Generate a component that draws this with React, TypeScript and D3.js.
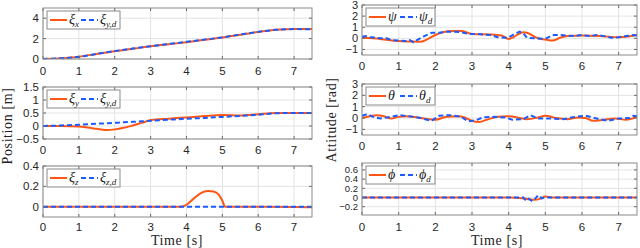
import * as d3 from 'd3'

// time ticks shared by every panel
const timeTicks = [0, 1, 2, 3, 4, 5, 6, 7]

// position x
const tXi = [0, 0.5, 1, 1.5, 2, 2.5, 3, 3.5, 4, 4.5, 5, 5.5, 6, 6.5, 7, 7.5]
const xiX = [0, 0.08, 0.23, 0.5, 0.77, 1.0, 1.26, 1.45, 1.65, 1.88, 2.1, 2.38, 2.65, 2.87, 2.95, 2.93]
const xiXd = [0, 0.07, 0.22, 0.5, 0.78, 1.02, 1.25, 1.47, 1.68, 1.9, 2.12, 2.4, 2.66, 2.86, 2.93, 2.92]

// position y
const tY = [0, 0.5, 1, 1.25, 1.5, 1.75, 2, 2.25, 2.5, 2.75, 3, 3.5, 4, 4.5, 5, 5.5, 6, 6.5, 7, 7.5]
const xiY = [0, 0, -0.02, -0.06, -0.11, -0.15, -0.13, -0.07, 0.02, 0.12, 0.22, 0.28, 0.33, 0.38, 0.42, 0.4, 0.45, 0.5, 0.5, 0.5]
const xiYd = [0, 0.02, 0.05, 0.07, 0.09, 0.1, 0.12, 0.14, 0.16, 0.18, 0.2, 0.24, 0.28, 0.31, 0.35, 0.39, 0.43, 0.49, 0.5, 0.5]

// position z
const tZ = [0, 1, 2, 3, 3.8, 4.0, 4.2, 4.4, 4.6, 4.75, 4.9, 5.0, 5.08, 5.5, 6, 7, 7.5]
const xiZ = [0, 0, 0, 0, 0, 0.02, 0.08, 0.135, 0.155, 0.15, 0.12, 0.06, 0, 0, 0, -0.003, -0.005]
const xiZd = [0, 0, 0, 0, 0, 0, 0, 0, 0, 0, 0, 0, 0, 0, 0, 0, 0]

// yaw
const tPsi = [0, 0.5, 1, 1.3, 1.6, 1.8, 2, 2.2, 2.5, 2.7, 3, 3.5, 3.8, 4.0, 4.1, 4.25, 4.4, 4.5, 4.8, 5.0, 5.2, 5.4, 5.6, 6, 6.5, 7, 7.5]
const psi = [0.05, -0.05, -0.25, -0.28, -0.3, -0.05, 0.3, 0.55, 0.65, 0.65, 0.4, 0.35, 0.25, -0.05, 0.05, 0.35, 0.55, 0.5, 0.0, -0.1, -0.2, 0.05, 0.2, 0.25, 0.2, 0.1, 0.3]
const tPsiD = [0, 0.1, 0.2, 0.35, 0.5, 0.65, 0.8, 1, 1.2, 1.3, 1.4, 1.5, 1.7, 1.9, 2.1, 2.3, 2.5, 2.7, 2.9, 3.1, 3.3, 3.5, 3.7, 3.9, 4.0, 4.2, 4.3, 4.4, 4.5, 4.7, 5.0, 5.2, 5.4, 5.6, 5.8, 6.0, 6.2, 6.4, 6.6, 6.8, 7, 7.2, 7.4, 7.5]
const psiD = [0.15, 0.2, 0.1, 0.08, 0.0, 0.02, -0.15, -0.2, -0.25, -0.15, -0.35, -0.15, 0.2, 0.5, 0.5, 0.6, 0.6, 0.55, 0.4, 0.4, 0.35, 0.3, 0.1, 0.05, 0.1, 0.45, 0.6, 0.45, 0.05, 0.0, -0.05, 0.3, 0.3, 0.25, 0.2, 0.3, 0.2, 0.3, 0.2, 0.05, 0.1, 0.2, 0.3, 0.25]

// pitch
const tTheta = [0, 0.2, 0.4, 0.6, 0.8, 1.0, 1.2, 1.5, 1.8, 2.0, 2.3, 2.6, 2.8, 3.0, 3.2, 3.4, 3.7, 4.0, 4.3, 4.5, 4.8, 5.0, 5.3, 5.6, 5.9, 6.1, 6.3, 6.6, 6.9, 7.2, 7.5]
const theta = [0.0, 0.15, 0.25, 0.15, -0.05, 0.1, 0.15, 0.05, -0.1, -0.15, 0.1, 0.15, 0.05, -0.25, -0.35, -0.15, 0.1, 0.15, 0.0, -0.1, 0.05, 0.2, 0.0, -0.1, 0.05, 0.0, -0.25, -0.15, -0.05, -0.15, 0.1]
const tThetaD = [0, 0.15, 0.3, 0.5, 0.8, 1.0, 1.3, 1.6, 1.9, 2.1, 2.4, 2.7, 2.9, 3.1, 3.3, 3.6, 3.9, 4.1, 4.4, 4.6, 4.8, 5.2, 5.5, 5.8, 6.1, 6.4, 6.7, 7.0, 7.3, 7.4, 7.5]
const thetaD = [0.2, 0.35, 0.1, -0.05, 0.1, 0.25, 0.15, 0.0, -0.25, 0.2, 0.25, 0.1, -0.3, -0.2, 0.05, 0.1, 0.05, -0.15, -0.1, 0.25, -0.05, -0.05, -0.1, 0.1, 0.2, -0.05, -0.25, -0.05, 0.0, 0.2, 0.15]

// roll
const tPhi = [0, 1, 2, 3, 4, 4.3, 4.5, 4.7, 4.85, 5.0, 5.1, 5.2, 6, 7, 7.5]
const phi = [0, 0, 0, 0, 0, -0.01, -0.03, -0.05, -0.03, 0.02, 0.01, 0, 0, 0, 0]
const tPhiD = [0, 1, 2, 3, 4, 4.4, 4.45, 4.5, 4.55, 4.65, 4.72, 4.8, 4.85, 4.9, 5.0, 6, 7, 7.5]
const phiD = [0, 0, 0, 0, 0, 0, -0.05, -0.07, -0.03, -0.08, -0.03, 0.05, 0.03, -0.02, 0, 0, 0, 0]

const ORANGE = '#ff5515'
const BLUE = '#1a5cff'
const SERIF = '"Liberation Serif", "DejaVu Serif", serif'
const SANS = '"Liberation Sans", Arial, sans-serif'

type Label = { base: string; sub?: string }

type PanelProps = {
  left: number
  top: number
  width: number
  height: number
  yDomain: [number, number]
  yTicks: number[]
  tA: number[]
  a: number[]
  tD: number[]
  d: number[]
  labA: Label
  labD: Label
  legendW: number
  smoothD?: boolean
  xLabelGap?: number
  yFont?: number
}

function LegendText({ x, y, lab }: { x: number; y: number; lab: Label }) {
  return (
    <text x={x} y={y} fontFamily={SERIF} fontSize={14} fontStyle="italic" fill="#222">
      {lab.base}
      {lab.sub && (
        <tspan fontSize={9} dy={3}>
          {lab.sub}
        </tspan>
      )}
    </text>
  )
}

function Panel({
  left, top, width, height, yDomain, yTicks, tA, a, tD, d, labA, labD, legendW,
  smoothD = false, xLabelGap = 15, yFont = 11.5,
}: PanelProps) {
  const x = d3.scaleLinear([0, 7.5], [left, left + width])
  const y = d3.scaleLinear(yDomain, [top + height, top])

  const lineA = d3
    .line<number>()
    .x((_, i) => x(tA[i]))
    .y((v) => y(v))
    .curve(d3.curveMonotoneX)
  const lineD = d3
    .line<number>()
    .x((_, i) => x(tD[i]))
    .y((v) => y(v))
    .curve(smoothD ? d3.curveMonotoneX : d3.curveLinear)

  const lx = left + 4
  const ly = top + 3
  return (
    <g>
      <defs>
        <clipPath id={`clip-${left}-${top}`}>
          <rect x={left} y={top} width={width} height={height} />
        </clipPath>
      </defs>
      <rect x={left} y={top} width={width} height={height} fill="white" />
      {/* grid */}
      <g stroke="#e3e3e3" strokeWidth={1}>
        {timeTicks.map((t) => (
          <line key={t} x1={x(t)} x2={x(t)} y1={top} y2={top + height} />
        ))}
        {yTicks.map((v) => (
          <line key={v} x1={left} x2={left + width} y1={y(v)} y2={y(v)} />
        ))}
      </g>
      <g clipPath={`url(#clip-${left}-${top})`}>
        <path d={lineA(a) ?? ''} fill="none" stroke={ORANGE} strokeWidth={2} />
        <path d={lineD(d) ?? ''} fill="none" stroke={BLUE} strokeWidth={2} strokeDasharray="5,3" />
      </g>
      {/* ticks */}
      <g stroke="#666" strokeWidth={1}>
        {timeTicks.map((t) => (
          <g key={t}>
            <line x1={x(t)} x2={x(t)} y1={top + height} y2={top + height - 3} />
            <line x1={x(t)} x2={x(t)} y1={top} y2={top + 3} />
          </g>
        ))}
        {yTicks.map((v) => (
          <g key={v}>
            <line x1={left} x2={left + 3} y1={y(v)} y2={y(v)} />
            <line x1={left + width} x2={left + width - 3} y1={y(v)} y2={y(v)} />
          </g>
        ))}
      </g>
      <rect x={left} y={top} width={width} height={height} fill="none" stroke="#8a8a8a" strokeWidth={1} />
      {/* tick labels */}
      <g fontFamily={SANS} fill="#262626">
        {timeTicks.map((t) => (
          <text key={t} x={x(t)} y={top + height + xLabelGap} textAnchor="middle" fontSize={11.5}>
            {t}
          </text>
        ))}
        {yTicks.map((v) => (
          <text key={v} x={left - 4} y={y(v) + yFont * 0.35} textAnchor="end" fontSize={yFont}>
            {v < 0 ? `\u2212${Math.abs(v)}` : `${v}`}
          </text>
        ))}
      </g>
      {/* legend */}
      <rect x={lx} y={ly} width={legendW} height={18} fill="white" stroke="#8a8a8a" strokeWidth={1} />
      <line x1={lx + 3} x2={lx + 20} y1={ly + 9} y2={ly + 9} stroke={ORANGE} strokeWidth={2} />
      <LegendText x={lx + 22} y={ly + 13} lab={labA} />
      <line x1={lx + 34} x2={lx + 51} y1={ly + 9} y2={ly + 9} stroke={BLUE} strokeWidth={2} strokeDasharray="5,3" />
      <LegendText x={lx + 53} y={ly + 13} lab={labD} />
    </g>
  )
}

export default function App() {
  const L = 43
  const LW = 269
  const R = 362
  const RW = 275
  const attTicks = [-1, 0, 1, 2, 3]
  return (
    <svg width={640} height={248} style={{ position: 'absolute', left: 0, top: 0, background: 'white' }}>
      <rect width={640} height={248} fill="white" />
      <Panel left={L} top={8} width={LW} height={51} yDomain={[0, 5]} yTicks={[0, 2, 4]}
        tA={tXi} a={xiX} tD={tXi} d={xiXd} labA={{ base: 'ξ', sub: 'x' }} labD={{ base: 'ξ', sub: 'y,d' }}
        legendW={73} smoothD xLabelGap={16} />
      <Panel left={L} top={87} width={LW} height={52} yDomain={[-0.5, 1.5]} yTicks={[-0.5, 0, 0.5, 1, 1.5]}
        tA={tY} a={xiY} tD={tY} d={xiYd} labA={{ base: 'ξ', sub: 'y' }} labD={{ base: 'ξ', sub: 'y,d' }}
        legendW={73} smoothD />
      <Panel left={L} top={166} width={LW} height={51} yDomain={[-0.1, 0.4]} yTicks={[0, 0.2, 0.4]}
        tA={tZ} a={xiZ} tD={tZ} d={xiZd} labA={{ base: 'ξ', sub: 'z' }} labD={{ base: 'ξ', sub: 'z,d' }}
        legendW={73} smoothD xLabelGap={14} />

      <Panel left={R} top={5} width={RW} height={50} yDomain={[-1.5, 3]} yTicks={attTicks}
        tA={tPsi} a={psi} tD={tPsiD} d={psiD} labA={{ base: 'ψ' }} labD={{ base: 'ψ', sub: 'd' }}
        legendW={69} yFont={11} />
      <Panel left={R} top={84} width={RW} height={51} yDomain={[-1.5, 3]} yTicks={attTicks}
        tA={tTheta} a={theta} tD={tThetaD} d={thetaD} labA={{ base: 'θ' }} labD={{ base: 'θ', sub: 'd' }}
        legendW={69} yFont={11} />
      <Panel left={R} top={163} width={RW} height={52} yDomain={[-0.38, 0.75]} yTicks={[-0.2, 0, 0.2, 0.4, 0.6]}
        tA={tPhi} a={phi} tD={tPhiD} d={phiD} labA={{ base: 'ϕ' }} labD={{ base: 'ϕ', sub: 'd' }}
        legendW={69} xLabelGap={16} yFont={9.5} />

      {/* axis titles */}
      <g fontFamily={SERIF} fontSize={14} fill="#222" letterSpacing={0.6}>
        <text transform="translate(12,126) rotate(-90)" textAnchor="middle">Position [m]</text>
        <text transform="translate(336,120) rotate(-90)" textAnchor="middle">Attitude [rad]</text>
        <text x={177} y={245} textAnchor="middle">Time [s]</text>
        <text x={497} y={245} textAnchor="middle">Time [s]</text>
      </g>
    </svg>
  )
}
